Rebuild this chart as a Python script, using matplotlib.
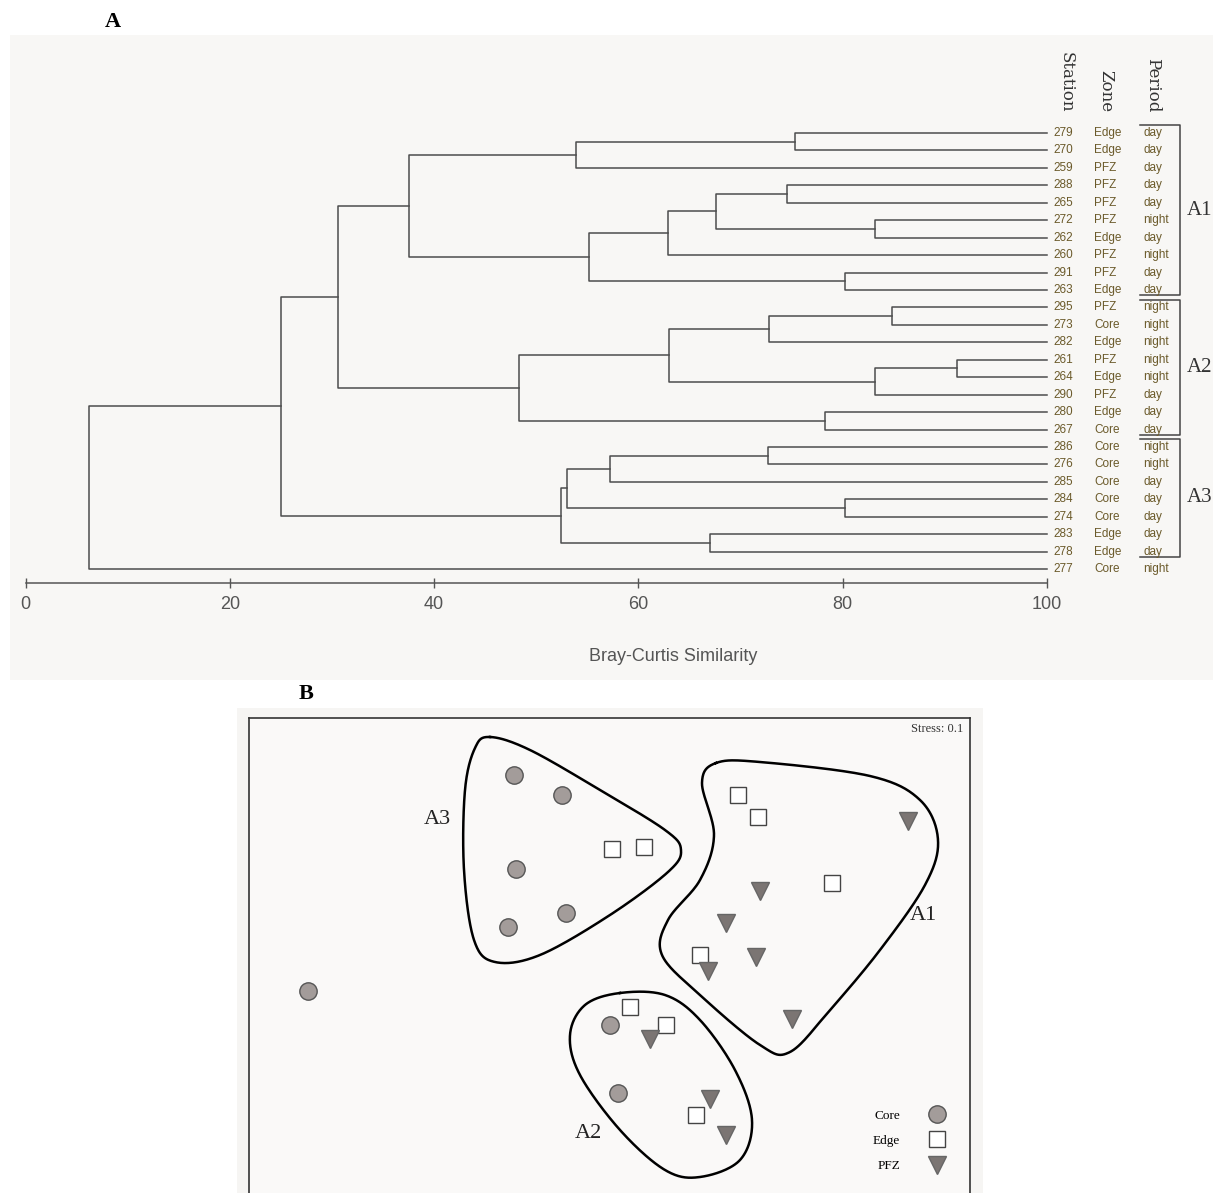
import numpy as np
import matplotlib
matplotlib.use('Agg')
import matplotlib.pyplot as plt
from matplotlib.patches import Rectangle
from matplotlib.lines import Line2D

# --- cluster analysis data -------------------------------------------------
stations = ['279', '270', '259', '288', '265', '272', '262', '260', '291', '263',
            '295', '273', '282', '261', '264', '290', '280', '267',
            '286', '276', '285', '284', '274', '283', '278', '277']
zones = ['Edge', 'Edge', 'PFZ', 'PFZ', 'PFZ', 'PFZ', 'Edge', 'PFZ', 'PFZ', 'Edge',
         'PFZ', 'Core', 'Edge', 'PFZ', 'Edge', 'PFZ', 'Edge', 'Core',
         'Core', 'Core', 'Core', 'Core', 'Core', 'Edge', 'Edge', 'Core']
periods = ['day', 'day', 'day', 'day', 'day', 'night', 'day', 'night', 'day', 'day',
           'night', 'night', 'night', 'night', 'night', 'day', 'day', 'day',
           'night', 'night', 'day', 'day', 'day', 'day', 'day', 'night']

# merges: (node a, node b, similarity); leaves are 0..25, new nodes from 26 on
merges = [
    (0, 1, 75.3), (26, 2, 53.9), (3, 4, 74.5), (5, 6, 83.2), (28, 29, 67.6),
    (30, 7, 62.9), (8, 9, 80.2), (31, 32, 55.2), (27, 33, 37.5),
    (10, 11, 84.8), (35, 12, 72.8), (13, 14, 91.2), (37, 15, 83.2),
    (36, 38, 63.0), (16, 17, 78.3), (39, 40, 48.3), (34, 41, 30.6),
    (18, 19, 72.7), (43, 20, 57.2), (21, 22, 80.2), (44, 45, 53.0),
    (23, 24, 67.0), (46, 47, 52.4), (42, 48, 25.0), (49, 25, 6.2),
]

groups = ['A1', 'A2', 'A3']
group_first = [0, 10, 18]
group_last = [9, 17, 24]

sim_ticks = [0, 20, 40, 60, 80, 100]

# --- MDS ordination data ---------------------------------------------------
core_x = [-0.48, -0.24, -0.47, -0.22, -0.51, -1.51, 0.00, 0.04]
core_y = [0.90, 0.80, 0.43, 0.21, 0.14, -0.18, -0.35, -0.69]
edge_x = [0.01, 0.17, 0.64, 0.74, 1.11, 0.45, 0.10, 0.28, 0.43]
edge_y = [0.53, 0.54, 0.80, 0.69, 0.36, 0.00, -0.26, -0.35, -0.80]
pfz_x = [1.49, 0.75, 0.58, 0.73, 0.49, 0.91, 0.20, 0.50, 0.58]
pfz_y = [0.67, 0.32, 0.16, -0.01, -0.08, -0.32, -0.42, -0.72, -0.90]
stress = 0.1

# outline control points of the three groups
hull_a3 = [(-0.60, 1.09), (-0.40, 1.025), (-0.05, 0.825), (0.275, 0.625), (0.355, 0.525),
           (0.29, 0.415), (0.0, 0.20), (-0.35, 0.0), (-0.575, -0.035), (-0.68, 0.075),
           (-0.73, 0.425), (-0.725, 0.825), (-0.675, 1.035)]
hull_a1 = [(0.53, 0.96), (0.75, 0.965), (1.30, 0.895), (1.55, 0.775), (1.64, 0.575),
           (1.575, 0.35), (1.35, 0.025), (1.10, -0.275), (0.90, -0.485), (0.75, -0.45),
           (0.45, -0.20), (0.26, 0.0), (0.29, 0.175), (0.45, 0.375), (0.52, 0.60),
           (0.46, 0.86)]
hull_a2 = [(0.05, -0.19), (0.275, -0.20), (0.45, -0.325), (0.625, -0.575), (0.71, -0.825),
           (0.65, -1.025), (0.45, -1.11), (0.275, -1.075), (0.05, -0.875), (-0.15, -0.60),
           (-0.20, -0.40), (-0.125, -0.25)]
hull_labels = {'A3': (-0.865, 0.675), 'A1': (1.565, 0.195), 'A2': (-0.11, -0.895)}


def closed_spline(pts, n=30):
    """Closed Catmull-Rom curve through the given points."""
    p = np.asarray(pts, dtype=float)
    k = len(p)
    out = []
    t = np.linspace(0, 1, n, endpoint=False)[:, None]
    for i in range(k):
        p0, p1, p2, p3 = p[i - 1], p[i], p[(i + 1) % k], p[(i + 2) % k]
        seg = 0.5 * ((2 * p1) + (-p0 + p2) * t + (2 * p0 - 5 * p1 + 4 * p2 - p3) * t ** 2
                     + (-p0 + 3 * p1 - 3 * p2 + p3) * t ** 3)
        out.append(seg)
    out = np.vstack(out)
    return np.vstack([out, out[:1]])


W, H = 1224, 1193
fig = plt.figure(figsize=(W / 100, H / 100), dpi=100)
fig.patch.set_facecolor('white')


def fx(px):
    return px / W


def fy(py):
    return 1 - py / H


serif = ['Liberation Serif', 'DejaVu Serif']
sans = ['Liberation Sans', 'DejaVu Sans']
narrow = ['Liberation Sans Narrow', 'Liberation Sans', 'DejaVu Sans']

# panel backgrounds (kept behind the axes)
fig.patches.append(Rectangle((fx(10), fy(680)), fx(1213) - fx(10), fy(35) - fy(680),
                             transform=fig.transFigure, facecolor='#f8f7f5', edgecolor='none', zorder=-5))
fig.patches.append(Rectangle((fx(237), fy(1193)), fx(983) - fx(237), fy(708) - fy(1193),
                             transform=fig.transFigure, facecolor='#f6f5f3', edgecolor='none', zorder=-5))

fig.text(fx(113), fy(22), 'A', family=serif, fontsize=16, fontweight='bold', ha='center', va='center')
fig.text(fx(306), fy(694), 'B', family=serif, fontsize=16, fontweight='bold', ha='center', va='center')

# --- A: dendrogram ---------------------------------------------------------
axA = fig.add_axes([fx(25.5), fy(583), fx(1047) - fx(25.5), fy(133) - fy(583)])
axA.patch.set_alpha(0)
n = len(stations)
ymax = n - 1
axA.set_xlim(0, 100)
axA.set_ylim(-0.80, ymax)

lc = '#4d4d4d'
pos = {i: (100.0, ymax - i) for i in range(n)}
for k, (a, b, s) in enumerate(merges):
    xa, ya = pos[a]
    xb, yb = pos[b]
    axA.plot([xa, s, s, xb], [ya, ya, yb, yb], color=lc, lw=1.1, clip_on=False)
    pos[n + k] = (s, (ya + yb) / 2)

tc = '#6b5a2a'
for i in range(n):
    y = ymax - i
    axA.text(100.6, y, stations[i], color=tc, fontsize=8.5, family=sans, va='center', ha='left', clip_on=False)
    axA.text(104.6, y, zones[i], color=tc, fontsize=8.5, family=sans, va='center', ha='left', clip_on=False)
    axA.text(109.4, y, periods[i], color=tc, fontsize=8.5, family=sans, va='center', ha='left', clip_on=False)

for txt, xh in zip(['Station', 'Zone', 'Period'], [101.9, 105.8, 110.3]):
    axA.text(xh, ymax + 1.2, txt, rotation=270, family=['DejaVu Serif'], fontsize=12,
             ha='center', va='bottom', color='#333333', clip_on=False)

for g, i0, i1 in zip(groups, group_first, group_last):
    ytop = ymax - i0 + 0.45
    ybot = ymax - i1 - 0.3
    axA.plot([109.1, 113.0, 113.0, 109.1], [ytop, ytop, ybot, ybot], color='#444444', lw=1.1, clip_on=False)
    axA.text(113.7, (ytop + ybot) / 2, g, family=serif, fontsize=15, color='#333333',
             ha='left', va='center', clip_on=False)

for side in ['top', 'right', 'left']:
    axA.spines[side].set_visible(False)
axA.spines['bottom'].set_color('#555555')
axA.spines['bottom'].set_linewidth(1.1)
axA.set_yticks([])
axA.set_xticks(sim_ticks)
axA.tick_params(axis='x', direction='inout', length=7, width=1, color='#555555',
                pad=6, labelsize=13, labelcolor='#555555')
for lab in axA.get_xticklabels():
    lab.set_family(narrow)
fig.text(fx(673), fy(657), 'Bray-Curtis Similarity', family=narrow, fontsize=13,
         color='#555555', ha='center', va='center')

# --- B: MDS plot -----------------------------------------------------------
axB = fig.add_axes([fx(249), fy(1240), fx(970) - fx(249), fy(718) - fy(1240)])
axB.set_facecolor('#faf9f8')
axB.set_xlim(-1.805, 1.80)
axB.set_ylim(-1.425, 1.185)
axB.set_xticks([])
axB.set_yticks([])
for sp in axB.spines.values():
    sp.set_color('#333333')
    sp.set_linewidth(1.2)

for pts in (hull_a3, hull_a1, hull_a2):
    c = closed_spline(pts)
    axB.plot(c[:, 0], c[:, 1], color='black', lw=1.8, zorder=2)
for g, (hx, hy) in hull_labels.items():
    axB.text(hx, hy, g, family=serif, fontsize=16, ha='center', va='center', color='#222222')

axB.plot(core_x, core_y, 'o', ms=12.5, mfc='#a39c9a', mec='#555555', mew=1.0, ls='none', zorder=3)
axB.plot(edge_x, edge_y, 's', ms=12, mfc='white', mec='#444444', mew=1.0, ls='none', zorder=3)
axB.plot(pfz_x, pfz_y, 'v', ms=13, mfc='#7b7573', mec='#666666', mew=1.0, ls='none', zorder=3)

axB.text(0.99, 0.979, f'Stress: {stress}', transform=axB.transAxes, family=serif,
         fontsize=9, ha='right', va='center', color='#333333')

handles = [
    Line2D([], [], marker='o', ms=12.5, mfc='#a39c9a', mec='#555555', ls='none'),
    Line2D([], [], marker='s', ms=12, mfc='white', mec='#444444', ls='none'),
    Line2D([], [], marker='v', ms=13, mfc='#7b7573', mec='#666666', ls='none'),
]
leg = axB.legend(handles, ['Core', 'Edge', 'PFZ'], markerfirst=False, frameon=False,
                 prop={'family': serif, 'size': 9.5}, loc='lower right',
                 bbox_to_anchor=(fx(950), fy(1179)), bbox_transform=fig.transFigure,
                 labelspacing=1.0, handletextpad=2.3, handlelength=1.0, borderpad=0)

fig.savefig('out.png', dpi=100)
